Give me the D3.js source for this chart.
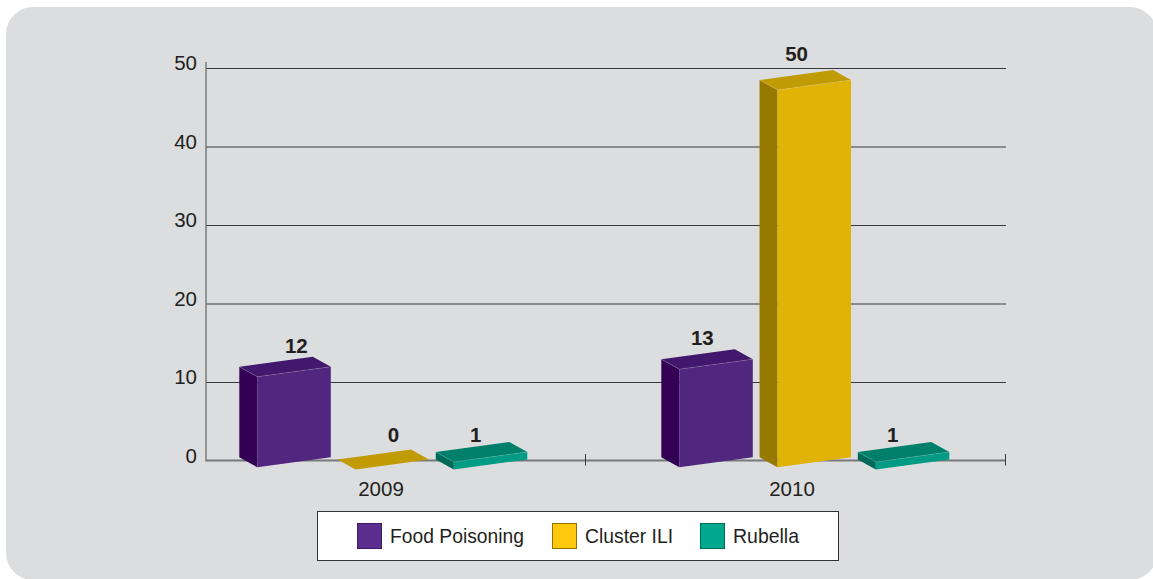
<!DOCTYPE html>
<html>
<head>
<meta charset="utf-8">
<script src="https://cdn.jsdelivr.net/npm/d3@7"></script>
<style>
html, body { margin: 0; padding: 0; background: #fff; }
svg { display: block; }
text { font-family: "Liberation Sans", Arial, sans-serif; fill: #231f20; }
</style>
</head>
<body>
<div id="chart"></div>
<script>
const years = ['2009', '2010'];
const seriesNames = ['Food Poisoning', 'Cluster ILI', 'Rubella'];
const foodPoisoning = [12, 13];
const clusterIli = [0, 50];
const rubella = [1, 1];
const yTicks = [0, 10, 20, 30, 40, 50];

const seriesValues = [foodPoisoning, clusterIli, rubella];

const frontColors = ['#50267f', '#e1b307', '#009b84'];
const topColors = ['#42186e', '#c19b03', '#00806b'];
const sideColors = ['#330055', '#977900', '#006a59'];
const swatchColors = ['#5b2d8e', '#ffc80b', '#00a88f'];
const swatchEdges = ['#3d1d63', '#8f7000', '#006a59'];

const width = 1153, height = 579;

const svg = d3.select('#chart').append('svg')
    .attr('width', width)
    .attr('height', height);

svg.append('rect')
    .attr('x', 6).attr('y', 7)
    .attr('width', 1151).attr('height', 573)
    .attr('rx', 27)
    .attr('fill', '#dcddde');

// grid and axis sit on their own scale, the bars are on a slightly different one
const y = d3.scaleLinear().domain([0, 50]).range([460.5, 68]);
const barY = d3.scaleLinear().domain([0, 50]).range([467.3, 90]);

const groupX = d3.scaleBand().domain(years).range([164, 1008]);
const barX = d3.scaleBand().domain(seriesNames).range([93.3, 363.3]).paddingInner(24.7 / 98).paddingOuter(0);
const labelX = d3.scalePoint().domain(years).range([381, 792]);
const tickX = d3.scalePoint().domain(years).range([585.5, 1005.5]);

const depthX = 18, depthY = 10, slope = 10;
const thinShift = 2.2;

// value label placement per bar, year by series, relative to the front top-left corner
const labelDx = [[39, 38, 22], [23, 19, 17]];
const labelDy = [[-24, -27.5, -20], [-24, -29.5, -20]];

svg.append('g')
    .attr('transform', 'translate(206,0)')
    .call(d3.axisRight(y).tickValues(yTicks.slice(1)).tickSize(800).tickFormat(''))
    .call(g => g.select('.domain').remove())
    .call(g => g.selectAll('line').attr('stroke', '#3a383a').attr('stroke-width', 1));

svg.append('g')
    .attr('transform', 'translate(197,-5)')
    .call(d3.axisLeft(y).tickValues(yTicks).tickSize(0).tickPadding(0))
    .call(g => g.select('.domain').remove())
    .call(g => g.selectAll('text').attr('font-size', 20.5).attr('fill', '#231f20'));

const baseline = y(0);
svg.append('line')
    .attr('x1', 206).attr('x2', 206).attr('y1', 62).attr('y2', baseline + 1)
    .attr('stroke', '#6d6e71').attr('stroke-width', 1.3);
svg.append('line')
    .attr('x1', 206).attr('x2', 1006).attr('y1', baseline).attr('y2', baseline)
    .attr('stroke', '#77787b').attr('stroke-width', 2);

svg.append('g').selectAll('line')
    .data(years)
    .join('line')
    .attr('x1', d => tickX(d))
    .attr('x2', d => tickX(d))
    .attr('y1', baseline - 6.5).attr('y2', baseline + 5)
    .attr('stroke', '#3a383a').attr('stroke-width', 1);

svg.append('g').selectAll('text')
    .data(years)
    .join('text')
    .attr('x', d => labelX(d))
    .attr('y', 496)
    .attr('text-anchor', 'middle')
    .attr('font-size', 20.5)
    .text(d => d);

const bars = [];
years.forEach((year, yi) => {
    seriesNames.forEach((name, si) => {
        bars.push({year, name, si, yi, value: seriesValues[si][yi]});
    });
});

const poly = pts => pts.map(p => p.join(',')).join(' ');

svg.append('g').selectAll('g')
    .data(bars)
    .join('g')
    .each(function(d) {
        const g = d3.select(this);
        const shift = d.value <= 1 ? thinShift : 0;
        const x0 = groupX(d.year) + barX(d.name);
        const x1 = x0 + barX.bandwidth();
        const top = barY(d.value) + shift;
        const bottom = barY(0) + shift;

        if (d.value > 0) {
            g.append('polygon')
                .attr('points', poly([[x0 - depthX, top - depthY], [x0, top], [x0, bottom], [x0 - depthX, bottom - depthY]]))
                .attr('fill', sideColors[d.si]);
            g.append('polygon')
                .attr('points', poly([[x0, top], [x1, top - slope], [x1, bottom - slope], [x0, bottom]]))
                .attr('fill', frontColors[d.si]);
        }
        g.append('polygon')
            .attr('points', poly([[x0 - depthX, top - depthY], [x1 - depthX, top - depthY - slope], [x1, top - slope], [x0, top]]))
            .attr('fill', topColors[d.si]);
        if (d.value > 0) {
            g.append('polyline')
                .attr('points', poly([[x0 - depthX, top - depthY], [x0, top], [x1, top - slope]]))
                .attr('fill', 'none')
                .attr('stroke', '#fff')
                .attr('stroke-opacity', 0.18)
                .attr('stroke-width', 0.8);
        }
    });

svg.append('g').selectAll('text')
    .data(bars)
    .join('text')
    .attr('x', d => groupX(d.year) + barX(d.name) + labelDx[d.yi][d.si])
    .attr('y', d => barY(d.value) + (d.value <= 1 ? thinShift : 0) + labelDy[d.yi][d.si])
    .attr('text-anchor', 'middle')
    .attr('font-size', 20.5)
    .attr('font-weight', 'bold')
    .text(d => d.value);

const legend = svg.append('g');
legend.append('rect')
    .attr('x', 317.5).attr('y', 511.5)
    .attr('width', 521).attr('height', 49)
    .attr('fill', '#fff')
    .attr('stroke', '#333').attr('stroke-width', 1);

const legendSwatchX = d3.scaleOrdinal().domain(seriesNames).range([357.5, 552.5, 700.5]);

const item = legend.selectAll('g')
    .data(seriesNames)
    .join('g')
    .attr('transform', d => `translate(${legendSwatchX(d)},524)`);

item.append('rect')
    .attr('y', -0.5)
    .attr('width', 24).attr('height', 25)
    .attr('fill', (d, i) => swatchColors[i])
    .attr('stroke', (d, i) => swatchEdges[i]);

item.append('text')
    .attr('x', 32.5)
    .attr('y', 19)
    .attr('font-size', 21)
    .attr('textLength', (d, i) => [134, 88, 66][i])
    .attr('lengthAdjust', 'spacingAndGlyphs')
    .text(d => d);
</script>
</body>
</html>
